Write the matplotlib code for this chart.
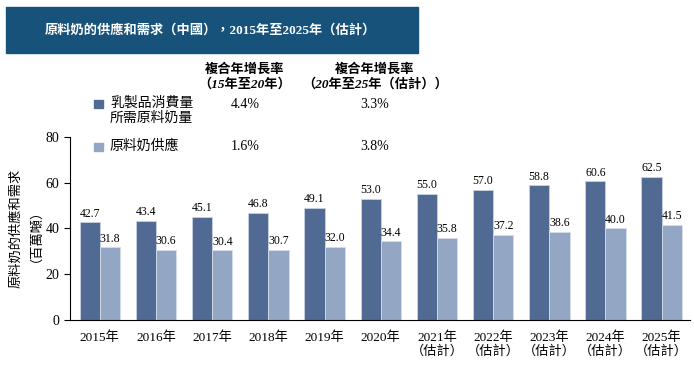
import numpy as np
import matplotlib
matplotlib.use("Agg")
from matplotlib import pyplot as plt
from matplotlib.patches import Rectangle

plt.rcParams["font.family"] = ["Liberation Serif", "Noto Sans CJK TC"]

years = ["2015年", "2016年", "2017年", "2018年", "2019年", "2020年",
         "2021年\n（估計）", "2022年\n（估計）", "2023年\n（估計）",
         "2024年\n（估計）", "2025年\n（估計）"]
demand = [42.7, 43.4, 45.1, 46.8, 49.1, 53.0, 55.0, 57.0, 58.8, 60.6, 62.5]
supply = [31.8, 30.6, 30.4, 30.7, 32.0, 34.4, 35.8, 37.2, 38.6, 40.0, 41.5]

series_names = ["乳製品消費量\n所需原料奶量", "原料奶供應"]
cagr_headers = ["複合年增長率\n（15年至20年）", "複合年增長率\n（20年至25年（估計））"]
cagr_1520 = ["4.4%", "1.6%"]
cagr_2025 = ["3.3%", "3.8%"]

dark = "#506a94"
light = "#93a7c4"
banner = "#16527a"

fig = plt.figure(figsize=(6.94, 3.66), dpi=100)
ax = fig.add_axes([0.1009, 0.1257, 0.893, 0.5])

x = np.arange(len(years))
w = 0.36
ax.bar(x - w / 2, demand, w, color=dark, edgecolor="#c9d3e2", linewidth=0.6)
ax.bar(x + w / 2, supply, w, color=light, edgecolor="#d5dde9", linewidth=0.6)

for xi, v in zip(x, demand):
    ax.text(xi - w / 2, v + 1.2, f"{v:.1f}", ha="center", va="bottom", fontsize=8.5)
for xi, v in zip(x, supply):
    ax.text(xi + w / 2, v + 1.2, f"{v:.1f}", ha="center", va="bottom", fontsize=8.5)

ax.set_xlim(-0.53, 10.5)
ax.set_ylim(0, 80)
ax.set_yticks([0, 20, 40, 60, 80])
ax.set_xticks(x)
ax.set_xticklabels(years, fontsize=9.5, linespacing=1.15)
ax.tick_params(axis="x", length=0, pad=8)
ax.tick_params(axis="y", labelsize=10, length=4, direction="out")
for s in ["top", "right"]:
    ax.spines[s].set_visible(False)

fig.text(0.033, 0.375, "原料奶的供應和需求\n（百萬噸）", rotation=90,
         ha="center", va="center", fontsize=9.5, linespacing=1.05)

# title banner
fig.patches.append(Rectangle((6 / 694, 1 - 53 / 366), 412 / 694, 46 / 366,
                             transform=fig.transFigure, color=banner, zorder=0))
fig.text(210 / 694, 1 - 30 / 366, "原料奶的供應和需求（中國），2015年至2025年（估計）",
         ha="center", va="center", color="white", fontsize=9.5, fontweight="bold")

# legend table
for cx, h in zip([245, 375], cagr_headers):
    fig.text(cx / 694, 1 - 77 / 366, h, ha="center", va="center", fontsize=9.5,
             fontweight="bold", style="italic", linespacing=1.15)

rows_y = [104, 147]
for yy, name, color, c1, c2 in zip(rows_y, series_names, [dark, light], cagr_1520, cagr_2025):
    fig.patches.append(Rectangle((94 / 694, 1 - (yy + 4) / 366), 9 / 694, 8 / 366,
                                 transform=fig.transFigure, color=color))
    fig.text(110 / 694, 1 - (yy - 8) / 366, name, ha="left", va="top", fontsize=10,
             linespacing=1.2)
    fig.text(245 / 694, 1 - yy / 366, c1, ha="center", va="center", fontsize=10)
    fig.text(375 / 694, 1 - yy / 366, c2, ha="center", va="center", fontsize=10)

fig.savefig("out.png", dpi=100)
